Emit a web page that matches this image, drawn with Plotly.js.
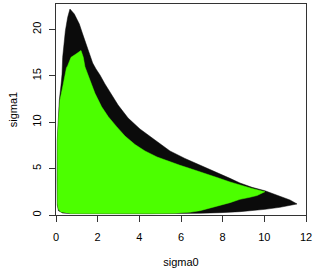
<!DOCTYPE html>
<html>
<head>
<meta charset="utf-8">
<script src="https://cdn.plot.ly/plotly-3.0.1.min.js"></script>
<style>html,body{margin:0;padding:0;background:#fff;}#chart{width:318px;height:272px;}</style>
</head>
<body>
<div id="chart"></div>
<script>
// Outer (black) region boundary
var outerX = [0.12,0.06,0.05,0.06,0.11,0.16,0.24,0.29,0.32,0.38,0.45,0.56,0.67,
  0.88,1.12,1.28,1.44,1.60,1.76,1.92,2.11,2.35,2.59,2.98,3.46,4.03,4.75,5.47,6.19,6.91,7.39,7.87,8.35,8.83,9.41,10.03,10.75,11.23,11.57,
  11.23,10.75,10.03,8.83,7.87,6.91,4.51,2.11,0.67,0.29];
var outerY = [0.43,1.08,3.77,8.08,10.24,12.39,14.01,15.19,16.99,18.43,19.86,21.30,22.20,
  21.66,20.58,19.50,18.43,17.35,16.38,15.73,15.09,14.12,13.20,11.85,10.45,9.27,8.08,6.90,6.09,5.39,4.96,4.47,3.95,3.45,2.98,2.61,2.05,1.62,1.19,
  1.02,0.83,0.61,0.36,0.25,0.18,0.14,0.13,0.15,0.22];

// Inner (green) region boundary
var innerX = [0.24,0.11,0.07,0.07,0.07,0.12,0.19,0.34,0.43,0.50,0.56,0.72,0.96,1.20,
  1.31,1.39,1.52,1.63,1.87,2.19,2.51,2.91,3.31,3.79,4.27,4.85,5.47,5.95,6.43,6.91,7.39,7.87,8.35,8.83,9.41,10.03,
  9.65,9.31,8.83,8.35,7.87,7.39,6.91,6.43,5.71,4.51,2.11,0.67];
var innerY = [0.29,0.65,1.29,5.93,8.08,10.24,12.39,14.01,15.19,15.84,16.09,16.99,17.35,17.73,
  16.99,15.98,15.19,14.55,13.11,11.67,10.59,9.52,8.51,7.60,6.90,6.25,5.71,5.36,5.01,4.67,4.31,3.93,3.56,3.21,2.86,2.51,
  2.10,1.91,1.69,1.33,1.05,0.75,0.46,0.29,0.19,0.15,0.14,0.16];

var xTicks = [0,2,4,6,8,10,12];
var yTicks = [0,5,10,15,20];

var traces = [
  {x: outerX, y: outerY, type: 'scatter', mode: 'lines', fill: 'toself',
   fillcolor: '#0b0b0b', line: {color: '#0b0b0b', width: 0.5}, hoverinfo: 'skip'},
  {x: innerX, y: innerY, type: 'scatter', mode: 'lines', fill: 'toself',
   fillcolor: '#4cff00', line: {color: '#4cff00', width: 0.5}, hoverinfo: 'skip'}
];

var fontFam = '"Liberation Sans", Arial, Helvetica, sans-serif';
var layout = {
  width: 318, height: 272,
  margin: {l: 56, r: 12, t: 4, b: 57},
  paper_bgcolor: '#ffffff', plot_bgcolor: '#ffffff',
  showlegend: false,
  font: {family: fontFam, size: 11, color: '#000'},
  xaxis: {
    range: [0, 12], tickvals: xTicks, ticktext: xTicks.map(String),
    ticks: 'outside', ticklen: 6, tickcolor: '#333', tickwidth: 1,
    ticklabelstandoff: 6,
    showline: true, mirror: true, linecolor: '#333', linewidth: 1,
    showgrid: false, zeroline: false,
    tickfont: {family: fontFam, size: 11, color: '#000'},
    title: {text: 'sigma0', font: {family: fontFam, size: 11, color: '#000'}, standoff: 16}
  },
  yaxis: {
    range: [0, 22.74], tickvals: yTicks, ticktext: yTicks.map(String),
    ticks: 'outside', ticklen: 6, tickcolor: '#333', tickwidth: 1, tickangle: -90,
    ticklabelstandoff: 4,
    showline: true, mirror: true, linecolor: '#333', linewidth: 1,
    showgrid: false, zeroline: false,
    tickfont: {family: fontFam, size: 11, color: '#000'},
    title: {text: 'sigma1', font: {family: fontFam, size: 11, color: '#000'}, standoff: 10}
  }
};

Plotly.newPlot('chart', traces, layout, {staticPlot: true, displayModeBar: false});
</script>
</body>
</html>
